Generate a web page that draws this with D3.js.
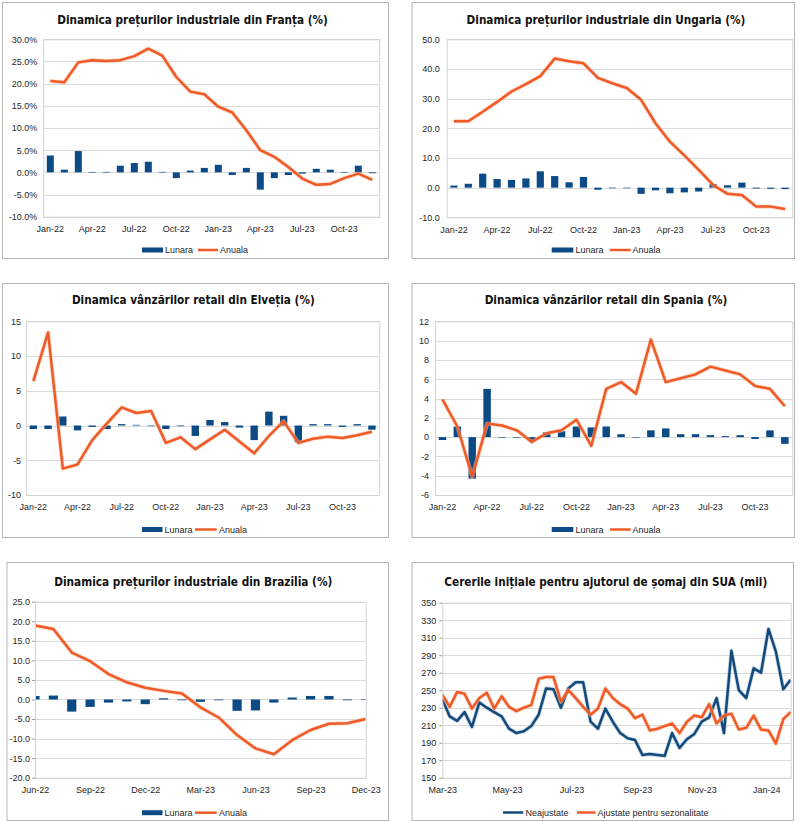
<!DOCTYPE html>
<html><head><meta charset="utf-8">
<script src="https://cdn.jsdelivr.net/npm/d3@7"></script>
<style>
body{margin:0;background:#fff}
svg{display:block}
.title{font-family:"Liberation Sans Narrow","Arial Narrow","DejaVu Sans Condensed",sans-serif;font-weight:bold;font-size:15.5px;fill:#111}
.ax text,.leg{font-family:"Liberation Sans",Arial,sans-serif;font-size:9px;fill:#262626}
</style>
</head><body>
<svg id="c" width="800" height="821"></svg>
<script>
// ---------- DATA ----------
const months = ["Jan-22","Feb-22","Mar-22","Apr-22","May-22","Jun-22","Jul-22","Aug-22","Sep-22","Oct-22","Nov-22","Dec-22",
                "Jan-23","Feb-23","Mar-23","Apr-23","May-23","Jun-23","Jul-23","Aug-23","Sep-23","Oct-23","Nov-23","Dec-23"];
const monthTicks = ["Jan-22","Apr-22","Jul-22","Oct-22","Jan-23","Apr-23","Jul-23","Oct-23"];

const franceLunara = [3.8,0.6,4.8,0.0,0.1,1.5,2.1,2.4,0.1,-1.3,0.4,1.0,1.7,-0.6,1.0,-3.9,-1.3,-0.6,-0.3,0.8,0.6,0.1,1.5,-0.2];
const franceAnuala = [20.6,20.3,24.8,25.3,25.1,25.3,26.2,27.9,26.3,21.5,18.2,17.6,14.8,13.5,9.5,5.0,3.5,1.2,-1.4,-2.8,-2.6,-1.3,-0.3,-1.7];

const ungariaLunara = [0.7,1.3,4.7,2.9,2.6,3.1,5.5,3.9,1.8,3.6,-0.7,0.0,0.0,-2.1,-0.9,-1.9,-1.6,-1.3,1.2,0.8,1.7,-0.3,-0.4,-0.5];
const ungariaAnuala = [22.4,22.4,25.6,28.9,32.4,34.9,37.6,43.5,42.6,41.9,37.0,35.2,33.6,29.6,21.7,15.5,10.9,6.0,0.9,-2.1,-2.5,-6.4,-6.4,-7.2];

const elvetiaLunara = [-0.5,-0.5,1.3,-0.7,-0.2,-0.5,0.2,0.1,0.0,-0.5,-0.1,-1.5,0.8,0.5,-0.3,-2.1,2.0,1.4,-2.4,0.2,0.2,-0.2,0.2,-0.6];
const elvetiaAnuala = [6.4,13.4,-6.2,-5.6,-2.1,0.3,2.6,1.8,2.1,-2.5,-1.7,-3.4,-2.0,-0.6,-2.3,-4.0,-1.5,0.6,-2.5,-1.9,-1.6,-1.8,-1.4,-0.9];

const spaniaLunara = [-0.3,1.1,-4.3,5.0,0.0,-0.05,-0.4,0.5,0.6,1.1,1.0,1.1,0.3,0.0,0.7,0.9,0.3,0.3,0.2,0.1,0.2,-0.2,0.7,-0.7];
const spaniaAnuala = [3.9,1.1,-4.1,1.4,1.2,0.7,-0.5,0.4,0.7,1.8,-0.9,5.0,5.7,4.5,10.1,5.7,6.1,6.5,7.3,6.9,6.5,5.3,5.0,3.2];

const brazilMonths = ["Jun-22","Jul-22","Aug-22","Sep-22","Oct-22","Nov-22","Dec-22","Jan-23","Feb-23","Mar-23",
                      "Apr-23","May-23","Jun-23","Jul-23","Aug-23","Sep-23","Oct-23","Nov-23","Dec-23"];
const brazilTicks = ["Jun-22","Sep-22","Dec-22","Mar-23","Jun-23","Sep-23","Dec-23"];
const brazilLunara = [0.9,1.0,-3.1,-1.9,-0.8,-0.5,-1.2,0.3,-0.2,-0.6,-0.2,-2.9,-2.8,-0.8,0.5,0.9,0.9,-0.2,-0.1];
const brazilAnuala = [18.9,18.0,12.0,9.8,6.5,4.4,3.0,2.2,1.5,-2.0,-4.6,-9.1,-12.5,-14.0,-10.4,-7.8,-6.2,-6.1,-5.0];

const usWeeks = ["2023-03-04","2023-03-11","2023-03-18","2023-03-25","2023-04-01","2023-04-08","2023-04-15","2023-04-22","2023-04-29",
  "2023-05-06","2023-05-13","2023-05-20","2023-05-27","2023-06-03","2023-06-10","2023-06-17","2023-06-24",
  "2023-07-01","2023-07-08","2023-07-15","2023-07-22","2023-07-29","2023-08-05","2023-08-12","2023-08-19","2023-08-26",
  "2023-09-02","2023-09-09","2023-09-16","2023-09-23","2023-09-30","2023-10-07","2023-10-14","2023-10-21","2023-10-28",
  "2023-11-04","2023-11-11","2023-11-18","2023-11-25","2023-12-02","2023-12-09","2023-12-16","2023-12-23","2023-12-30",
  "2024-01-06","2024-01-13","2024-01-20","2024-01-27"];
const usNeajustate = [240,220,215,225,208,236,230,225,220,206,201,203,209,222,252,251,230,252,259,259,214,206,229,214,
  201,195,193,176,177,176,175,201,184,194,200,214,219,241,201,295,250,241,275,270,320,294,251,262];
const usAjustate = [245,231,248,246,229,241,247,229,243,231,226,230,233,263,265,265,237,250,241,231,222,229,252,241,
  234,229,218,222,204,206,209,212,201,214,221,219,234,212,221,223,205,207,221,205,204,189,217,225];
const usTickDates = ["2023-03-04","2023-05-04","2023-07-04","2023-09-04","2023-11-04","2024-01-04"];
const usTickLabels = ["Mar-23","May-23","Jul-23","Sep-23","Nov-23","Jan-24"];

// ---------- DRAWING ----------
const BLUE = "#0c4a86", ORANGE = "#ef5a27", NAVY = "#124a7c";
const svg = d3.select("#c");

function drawPanel(o) {
  const g = svg.append("g");
  const [bx0,by0,bx1,by1] = o.box;
  g.append("rect").attr("x",bx0+0.5).attr("y",by0+0.5).attr("width",bx1-bx0).attr("height",by1-by0)
    .attr("fill","#fff").attr("stroke","#b5b5b5");
  const t = g.append("text").attr("class","title").attr("x",o.titleX).attr("y",o.titleY).attr("text-anchor","middle")
    .text(o.title);
  const natural = t.node().getComputedTextLength();
  if (natural > 0) t.style("font-size", (15.5 * Math.min(1.05, o.titleW / natural)).toFixed(2) + "px");
  const [px0,py0,px1,py1] = o.plot;
  const y = d3.scaleLinear().domain(o.yDomain).range([py1,py0]);
  const xc = o.xc;
  g.append("g").selectAll("line").data(o.yTicks).join("line")
    .attr("x1",px0).attr("x2",px1)
    .attr("y1",d=>Math.round(y(d))+0.5).attr("y2",d=>Math.round(y(d))+0.5)
    .attr("stroke","#dadada");
  const clipId = "clip"+o.id;
  g.append("clipPath").attr("id",clipId).append("rect")
    .attr("x",px0).attr("y",py0).attr("width",px1-px0).attr("height",py1-py0);
  const plot = g.append("g").attr("clip-path",`url(#${clipId})`);
  if (o.bars) {
    plot.selectAll("rect").data(o.bars).join("rect")
      .attr("x",(v,i)=>xc(o.keys[i])-o.barW/2).attr("width",o.barW)
      .attr("y",v=>y(Math.max(0,v))).attr("height",v=>Math.max(0.6,Math.abs(y(v)-y(0))))
      .attr("fill",BLUE);
  }
  o.lines.forEach(L=>{
    const line = d3.line().x((v,i)=>xc(o.keys[i])).y(v=>y(v));
    plot.append("path").attr("d",line(L.values)).attr("fill","none").attr("stroke",L.glow)
      .attr("stroke-width",4.2).attr("stroke-linejoin","round").attr("opacity",0.55);
    plot.append("path").attr("d",line(L.values)).attr("fill","none").attr("stroke",L.color)
      .attr("stroke-width",2.5).attr("stroke-linejoin","round");
  });
  g.append("rect").attr("x",px0+0.5).attr("y",py0+0.5).attr("width",px1-px0).attr("height",py1-py0)
    .attr("fill","none").attr("stroke","#d4d4d4");
  const ya = g.append("g").attr("class","ax").attr("transform",`translate(${px0},0)`)
    .call(d3.axisLeft(y).tickValues(o.yTicks).tickFormat(o.yFmt).tickSize(o.yTick||0).tickPadding(o.yPad));
  ya.select(".domain").remove();
  ya.selectAll("line").attr("stroke","#9a9a9a");
  const xa = g.append("g").attr("class","ax").attr("transform",`translate(0,${py1})`)
    .call(d3.axisBottom(o.x).tickValues(o.xTicks).tickFormat(o.xFmt).tickSize(0).tickPadding(9));
  xa.select(".domain").remove();
  // legend
  const ly = o.legY;
  o.legend.forEach(it=>{
    if (it.type==="bar") {
      g.append("rect").attr("x",it.x0).attr("y",ly-2.5).attr("width",it.x1-it.x0).attr("height",5).attr("fill",it.color);
    } else {
      g.append("line").attr("x1",it.x0).attr("x2",it.x1).attr("y1",ly).attr("y2",ly)
        .attr("stroke",it.color).attr("stroke-width",2.5);
    }
    g.append("text").attr("class","leg").attr("x",it.tx).attr("y",ly+3.3).text(it.label);
  });
}

function bandPanel(id, box, plot, title, titleX, titleY, titleW, lun, anu, yDomain, yTicks, yFmt, yPad, legY, legOff) {
  const x = d3.scaleBand().domain(months).range([plot[0],plot[2]]).paddingInner(0.5).paddingOuter(0.25);
  drawPanel({
    id, box, plot, title, titleX, titleY, titleW, yDomain, yTicks, yFmt, yPad,
    x, xc: k=>x(k)+x.bandwidth()/2, keys: months, xTicks: monthTicks, xFmt: d=>d,
    bars: lun, barW: x.bandwidth(),
    lines: [{values: anu, color: ORANGE, glow: "#f8b89a"}],
    legY,
    legend: [
      {type:"bar", x0:legOff[0], x1:legOff[1], color:BLUE, label:"Lunara", tx:legOff[2]},
      {type:"line", x0:legOff[3], x1:legOff[4], color:ORANGE, label:"Anuala", tx:legOff[5]}
    ]
  });
}

const pct = d=>d.toFixed(1)+"%", one = d=>d.toFixed(1), int = d=>String(d);

bandPanel("p1",[2,2,388,258],[43.3,39.3,379.3,216.7],"Dinamica prețurilor industriale din Franța (%)",192.5,23.5,271,
  franceLunara, franceAnuala, [-10,30], d3.range(-10,31,5), pct, 6, 250, [142,163,165,198,218,220]);
bandPanel("p2",[411.5,2,794,258],[446.7,39.3,792.3,217.3],"Dinamica prețurilor industriale din Ungaria (%)",606,23.5,279,
  ungariaLunara, ungariaAnuala, [-10,50], d3.range(-10,51,10), one, 7, 250, [551.7,573.3,575.5,610,630.7,632.5]);
bandPanel("p3",[2,283,388,537],[26,321.3,379.3,495],"Dinamica vânzărilor retail din Elveția (%)",193.3,304,243,
  elvetiaLunara, elvetiaAnuala, [-10,15], d3.range(-10,16,5), int, 5, 529.5, [142,162.5,164.5,195,216.7,219]);
bandPanel("p4",[411.5,283,794,537],[435,321.3,792.3,495],"Dinamica vânzărilor retail din Spania (%)",606,304,243,
  spaniaLunara, spaniaAnuala, [-6,12], d3.range(-6,13,2), int, 6, 529.5, [551.7,573.3,575.5,610,630.7,632.5]);

// Brazil
(function(){
  const plot = [35,601.7,365.7,777.7];
  const x = d3.scalePoint().domain(brazilMonths).range([plot[0],plot[2]]);
  drawPanel({
    id:"p5", box:[6.5,562,388,820], plot, title:"Dinamica prețurilor industriale din Brazilia (%)",
    titleX:193.3, titleY:585.5, titleW:278, yDomain:[-20,25], yTicks:d3.range(-20,26,5), yFmt:one, yPad:2, yTick:3,
    x, xc:k=>x(k), keys:brazilMonths, xTicks:brazilTicks, xFmt:d=>d,
    bars:brazilLunara, barW:x.step()*0.5,
    lines:[{values:brazilAnuala, color:ORANGE, glow:"#f8b89a"}],
    legY:812.7,
    legend:[
      {type:"bar", x0:142, x1:162.5, color:BLUE, label:"Lunara", tx:164.5},
      {type:"line", x0:195, x1:216.7, color:ORANGE, label:"Anuala", tx:219}
    ]
  });
})();

// US claims
(function(){
  const parse = d3.timeParse("%Y-%m-%d");
  const dates = usWeeks.map(parse);
  const tickDates = usTickDates.map(parse);
  const plot = [442.3,602.7,790.7,777.7];
  const x = d3.scaleTime().domain([dates[0], dates[dates.length-1]]).range([plot[0],plot[2]]);
  drawPanel({
    id:"p6", box:[411.5,562,793,820], plot, title:"Cererile inițiale pentru ajutorul de șomaj din SUA (mii)",
    titleX:605.8, titleY:585.5, titleW:323, yDomain:[150,350], yTicks:d3.range(150,351,20), yFmt:int, yPad:3, yTick:3,
    x, xc:d=>x(d), keys:dates, xTicks:tickDates, xFmt:(d,i)=>usTickLabels[i],
    lines:[
      {values:usNeajustate, color:NAVY, glow:"#9fb6cf"},
      {values:usAjustate, color:ORANGE, glow:"#f8b89a"}
    ],
    legY:812.5,
    legend:[
      {type:"line", x0:503, x1:523.3, color:NAVY, label:"Neajustate", tx:525.5},
      {type:"line", x0:577, x1:595.5, color:ORANGE, label:"Ajustate pentru sezonalitate", tx:597.5}
    ]
  });
})();
</script>
</body></html>
